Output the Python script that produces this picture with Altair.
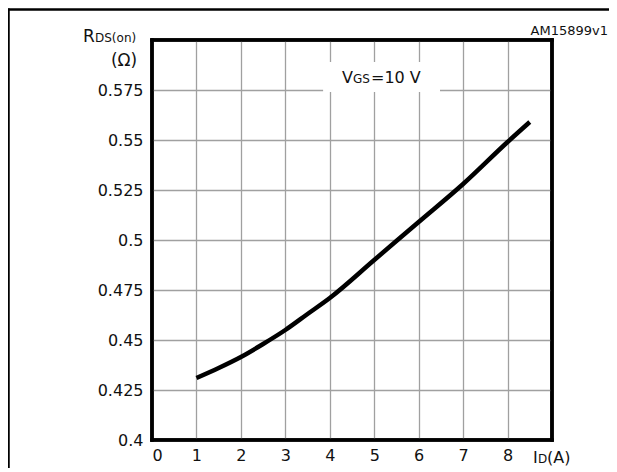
import altair as alt
import pandas as pd

# Curve: RDS(on) vs ID at VGS = 10 V
id_a = [1.0, 1.5, 2.0, 2.5, 3.0, 3.5, 4.0, 5.0, 6.0, 7.0, 8.0, 8.5]
rds = [0.431, 0.436, 0.4415, 0.448, 0.455, 0.463, 0.471, 0.490, 0.509, 0.528, 0.549, 0.559]

x_ticks = [0, 1, 2, 3, 4, 5, 6, 7, 8, 9]
y_ticks = [0.4, 0.425, 0.45, 0.475, 0.5, 0.525, 0.55, 0.575, 0.6]

# plot border (domain limits)
border_x = [0, 9]
border_y = [0.4, 0.6]

# label box (data units) for the VGS annotation
box_x = [3.85]
box_x2 = [6.48]
box_y = [0.574]
box_y2 = [0.589]

FONT = "DejaVu Sans"

curve_df = pd.DataFrame({"id": id_a, "rds": rds})
box_df = pd.DataFrame({"x": box_x, "x2": box_x2, "y": box_y, "y2": box_y2})
bx_df = pd.DataFrame({"x": border_x})
by_df = pd.DataFrame({"y": border_y})
one = pd.DataFrame({"k": [0]})

xs = alt.Scale(domain=[0, 9], nice=False, zero=False)
ys = alt.Scale(domain=[0.4, 0.6], nice=False, zero=False)

x_axis = alt.Axis(values=x_ticks, labelExpr="datum.value >= 9 ? '' : datum.label",
                  title=None, domain=False, ticks=False, grid=True,
                  gridColor="#a0a0a0", gridWidth=1.3, labelPadding=7,
                  labelFont=FONT, labelFontSize=16, labelColor="#111")
y_axis = alt.Axis(values=y_ticks, format=".3~f",
                  labelExpr="datum.value > 0.59 ? '' : datum.label",
                  title=None, domain=False, ticks=False, grid=True,
                  gridColor="#a0a0a0", gridWidth=1.3, labelPadding=9,
                  labelFont=FONT, labelFontSize=16, labelColor="#111")

line = alt.Chart(curve_df).mark_line(color="black", strokeWidth=4.5, interpolate="monotone").encode(
    x=alt.X("id:Q", scale=xs, axis=x_axis),
    y=alt.Y("rds:Q", scale=ys, axis=y_axis),
)

box = alt.Chart(box_df).mark_rect(fill="white", strokeWidth=0).encode(
    x=alt.X("x:Q", scale=xs), x2="x2", y=alt.Y("y:Q", scale=ys), y2="y2"
)

border_v = alt.Chart(bx_df).mark_rule(color="black", strokeWidth=3.5, strokeCap="square").encode(
    x=alt.X("x:Q", scale=xs)
)
border_h = alt.Chart(by_df).mark_rule(color="black", strokeWidth=3.5, strokeCap="square").encode(
    y=alt.Y("y:Q", scale=ys)
)


def txt(s, x, y, size, align="left"):
    return alt.Chart(one).mark_text(text=s, font=FONT, fontSize=size, align=align,
                                    baseline="alphabetic", color="#111").encode(
        x=alt.value(x), y=alt.value(y))


texts = [
    txt("V", 190, 43, 16),
    txt("GS", 201, 43, 12),
    txt("=10 V", 219, 43, 16),
    txt("R", -69, 2, 17),
    txt("DS(on)", -57, 2, 12),
    txt("(Ω)", -28, 26, 17, "center"),
    txt("AM15899v1", 456, -5, 13, "right"),
    txt("I", 381, 423, 16),
    txt("D", 386, 423, 12),
    txt("(A)", 395, 423, 16),
]

frame_top = alt.Chart(one).mark_rule(color="black", strokeWidth=2.5).encode(
    x=alt.value(-144), x2=alt.value(480), y=alt.value(-30.5)
)
frame_left = alt.Chart(one).mark_rule(color="black", strokeWidth=2.5).encode(
    x=alt.value(-143.5), y=alt.value(-31.5), y2=alt.value(480)
)

chart = alt.layer(box, line, border_v, border_h, *texts, frame_top, frame_left).properties(
    width=400, height=400,
    autosize=alt.AutoSizeParams(type="none"),
    padding={"left": 144, "top": 32, "right": 57, "bottom": 28},
).configure(background="white", view=alt.ViewConfig(stroke="black", strokeWidth=3.5))

chart.save("out.html", embed_options={"renderer": "svg", "actions": False})
